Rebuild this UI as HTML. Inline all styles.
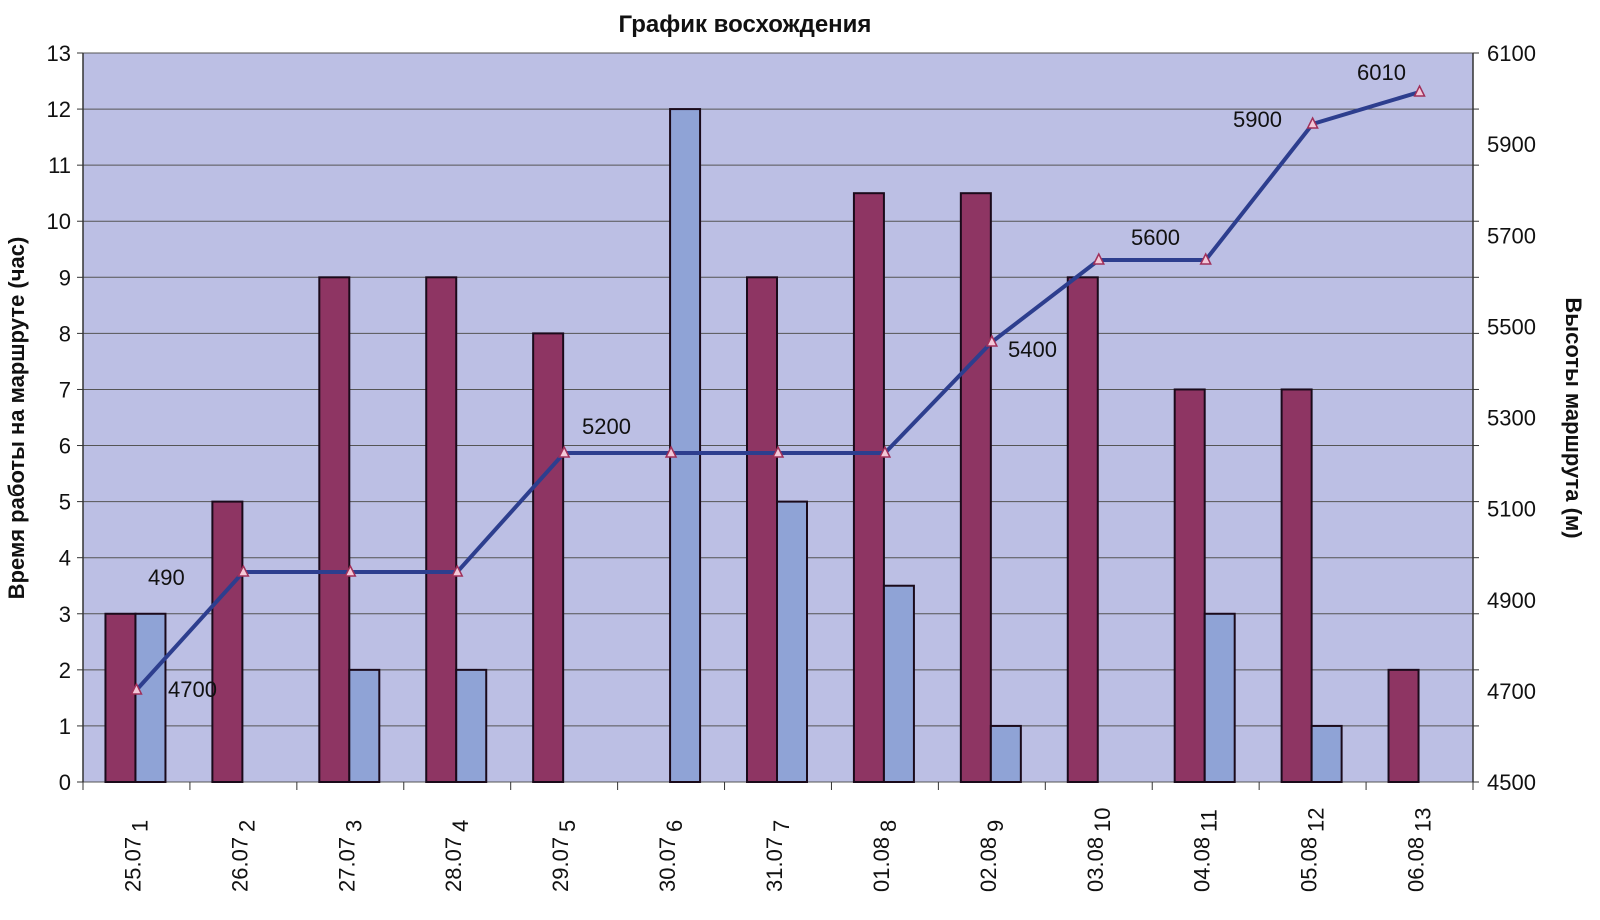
<!DOCTYPE html>
<html><head><meta charset="utf-8"><style>html,body{margin:0;padding:0;background:#fff;overflow:hidden;width:1600px;height:920px}svg{display:block}</style></head>
<body>
<svg width="1600" height="920" xmlns="http://www.w3.org/2000/svg" font-family="'Liberation Sans', sans-serif">
<rect width="1600" height="920" fill="#fff"/>
<text x="745" y="32" font-size="24" font-weight="bold" text-anchor="middle" fill="#111">График восхождения</text>
<rect x="83" y="53" width="1390" height="729" fill="#bcbfe4"/>
</svg>
<script>
(function(){
const svg=document.querySelector('svg');const NS='http://www.w3.org/2000/svg';
function el(t,a,txt){const e=document.createElementNS(NS,t);for(const k in a)e.setAttribute(k,a[k]);if(txt!==undefined)e.textContent=txt;svg.appendChild(e);return e;}
const T=53,B=782,u=(B-T)/13,L=83,R=1473,st=(R-L)/13;
for(let i=0;i<=13;i++){const y=B-i*u;el('line',{x1:L,x2:R,y1:y,y2:y,stroke:'#555','stroke-width':1});
el('line',{x1:L-6,x2:L,y1:y,y2:y,stroke:'#333'});el('line',{x1:R,x2:R+6,y1:y,y2:y,stroke:'#333'});
el('text',{x:L-12,y:y+8,'font-size':22,'text-anchor':'end',fill:'#111'},i);}
for(let k=0;k<=8;k++){const v=4500+200*k;const y=B-(v-4500)/1600*(B-T);el('text',{x:R+14,y:y+8,'font-size':22,fill:'#111'},v);}
el('line',{x1:L,x2:L,y1:T,y2:B,stroke:'#333','stroke-width':1.5});
el('line',{x1:R,x2:R,y1:T,y2:B,stroke:'#333','stroke-width':1.5});
const m=[3,5,9,9,8,0,9,10.5,10.5,9,7,7,2],b=[3,0,2,2,0,12,5,3.5,1,0,3,1,0];
const d=['25.07','26.07','27.07','28.07','29.07','30.07','31.07','01.08','02.08','03.08','04.08','05.08','06.08'];
for(let i=0;i<13;i++){const cx=L+st*(i+0.5);
if(m[i])el('rect',{x:cx-31,y:B-m[i]*u,width:30,height:m[i]*u,fill:'#8e3563',stroke:'#1a0a1a','stroke-width':2});
if(b[i])el('rect',{x:cx-1,y:B-b[i]*u,width:30,height:b[i]*u,fill:'#8fa3d6',stroke:'#1a0a1a','stroke-width':2});
el('line',{x1:L+st*i,x2:L+st*i,y1:B,y2:B+8,stroke:'#333'});
el('text',{transform:`translate(${cx+11},${B+50}) rotate(-90)`,'font-size':22,fill:'#111'},i+1);
el('text',{transform:`translate(${cx+4},${B+110}) rotate(-90)`,'font-size':22,fill:'#111'},d[i]);}
el('line',{x1:R,x2:R,y1:B,y2:B+8,stroke:'#333'});
const ly=[690,572,572,572,453,453,453,453,342,260,260,124,92];
let p='';for(let i=0;i<13;i++)p+=(i?'L':'M')+(L+st*(i+0.5))+' '+ly[i];
el('path',{d:p,fill:'none',stroke:'#2d3e8e','stroke-width':4});
for(let i=0;i<13;i++){const x=L+st*(i+0.5),y=ly[i];el('path',{d:`M${x} ${y-6}L${x+5} ${y+4}L${x-5} ${y+4}Z`,fill:'#f3c8d8',stroke:'#a0305a','stroke-width':1.5});}
const lab=[[148,585,'490'],[168,697,'4700'],[582,434,'5200'],[1008,357,'5400'],[1131,245,'5600'],[1233,127,'5900'],[1357,80,'6010']];
lab.forEach(a=>el('text',{x:a[0],y:a[1],'font-size':22,fill:'#111'},a[2]));
el('text',{transform:'translate(24,418) rotate(-90)','font-size':22,'font-weight':'bold','text-anchor':'middle',fill:'#111'},'Время работы на маршруте (час)');
el('text',{transform:'translate(1566,418) rotate(90)','font-size':22,'font-weight':'bold','text-anchor':'middle',fill:'#111'},'Высоты маршрута (м)');
})();
</script>
</body></html>
